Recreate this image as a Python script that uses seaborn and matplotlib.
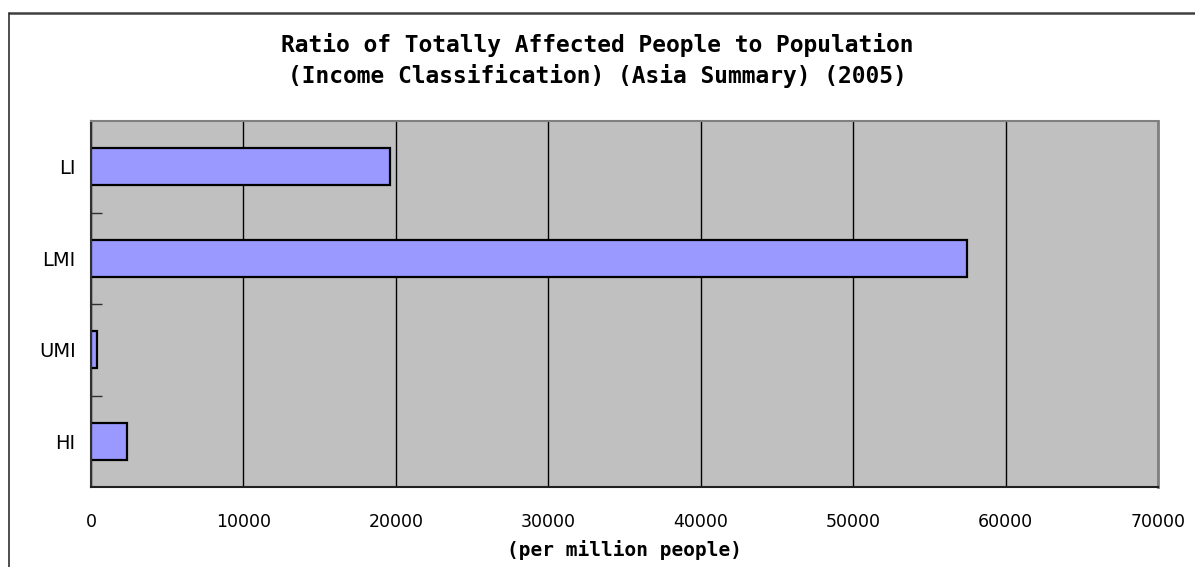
import pandas as pd
import matplotlib.pyplot as plt
import seaborn as sns
from matplotlib.lines import Line2D

# values (per million people)
categories = ['LI', 'LMI', 'UMI', 'HI']
ratios = [19600, 57500, 400, 2350]
xticks = [0, 10000, 20000, 30000, 40000, 50000, 60000, 70000]

df = pd.DataFrame({'income': categories, 'ratio': ratios})

sns.set_theme(style='white')
plt.rcParams['font.family'] = ['DejaVu Sans']
plt.rcParams['text.color'] = 'black'
plt.rcParams['xtick.color'] = 'black'
plt.rcParams['ytick.color'] = 'black'

fig = plt.figure(figsize=(11.95, 5.67), dpi=100)
ax = fig.add_axes([91 / 1195, 1 - 487 / 567, (1158 - 91) / 1195, (487 - 121) / 567])

sns.barplot(data=df, x='ratio', y='income', orient='h', order=categories,
            color='#9999FF', saturation=1, width=0.4,
            edgecolor='black', linewidth=1.6, ax=ax)

ax.set_facecolor('#C0C0C0')
ax.set_xlim(0, 70000)
ax.set_xticks(xticks)
ax.set_xticklabels([str(t) for t in xticks], fontsize=12.5)
ax.grid(axis='x', color='black', linewidth=1.0)
ax.grid(axis='y', visible=False)
ax.set_axisbelow(True)

# category boundary ticks pointing into the plot
ax.set_yticks([0.5, 1.5, 2.5], minor=True)
ax.tick_params(axis='y', which='minor', direction='in', length=8, width=1, color='#303030', left=True)
ax.tick_params(axis='y', which='major', length=0, pad=11, labelsize=14)
ax.tick_params(axis='x', which='major', length=0, pad=19, labelsize=12.5)

for side, col, lw in [('left', '#303030', 1.5), ('bottom', '#202020', 1.5),
                      ('top', '#808080', 1.5), ('right', '#808080', 2.0)]:
    ax.spines[side].set_visible(True)
    ax.spines[side].set_color(col)
    ax.spines[side].set_linewidth(lw)

ax.set_ylabel('')
ax.set_xlabel('(per million people)', fontsize=14, family='DejaVu Sans Mono',
              fontweight='bold', labelpad=6, color='black')

fig.text(597 / 1195, 1 - 45 / 567, 'Ratio of Totally Affected People to Population',
         ha='center', va='center', fontsize=16.5, family='DejaVu Sans Mono',
         fontweight='bold', color='black')
fig.text(597 / 1195, 1 - 76 / 567, '(Income Classification) (Asia Summary) (2005)',
         ha='center', va='center', fontsize=16.5, family='DejaVu Sans Mono',
         fontweight='bold', color='black')

# outer frame of the chart area
fig.add_artist(Line2D([9 / 1195, 1.0], [1 - 13 / 567, 1 - 13 / 567], color='#404040', linewidth=1.8))
fig.add_artist(Line2D([9 / 1195, 9 / 1195], [0.0, 1 - 13 / 567], color='#303030', linewidth=1.2))

fig.savefig('out.png', dpi=100)
